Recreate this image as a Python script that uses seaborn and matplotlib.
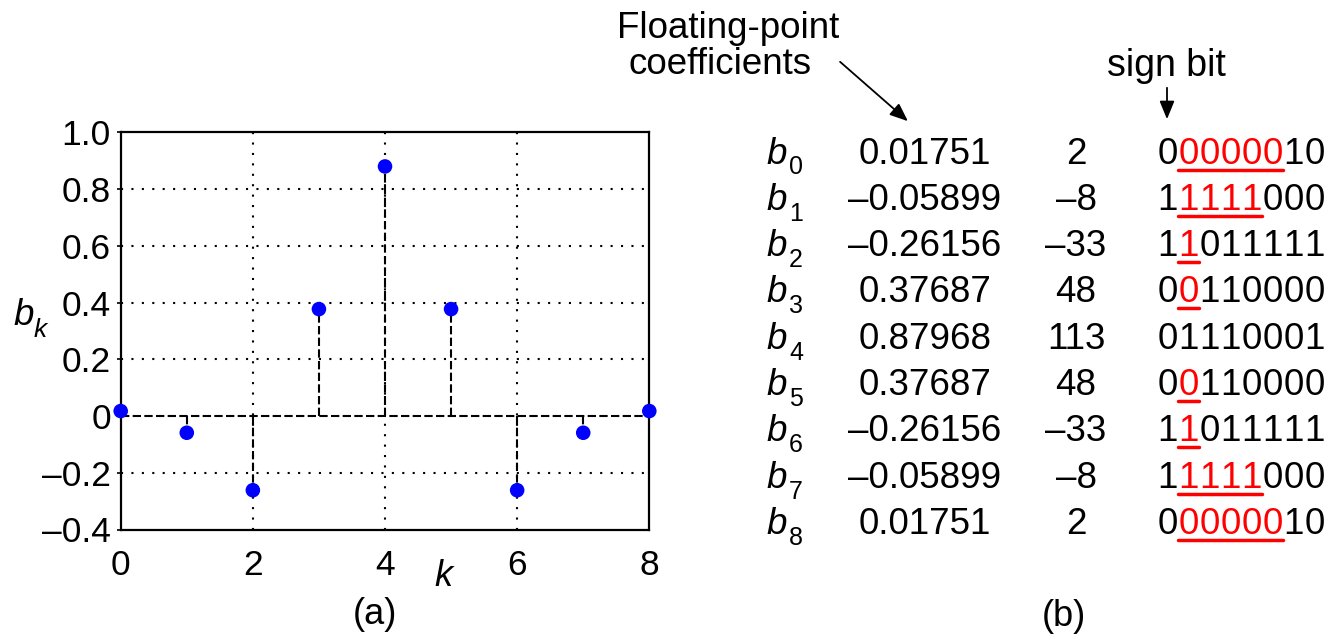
import numpy as np
import pandas as pd
import matplotlib
matplotlib.use("Agg")
import matplotlib.pyplot as plt
import seaborn as sns
from matplotlib.lines import Line2D
from matplotlib.patches import FancyArrowPatch

# ---------------- data ----------------
k_vals = [0, 1, 2, 3, 4, 5, 6, 7, 8]
b_vals = [0.01751, -0.05899, -0.26156, 0.37687, 0.87968, 0.37687, -0.26156, -0.05899, 0.01751]
b_text = ["0.01751", "\u20130.05899", "\u20130.26156", "0.37687", "0.87968",
          "0.37687", "\u20130.26156", "\u20130.05899", "0.01751"]
int_text = ["2", "\u20138", "\u201333", "48", "113", "48", "\u201333", "\u20138", "2"]
bin_text = ["00000010", "11111000", "11011111", "00110000", "01110001",
            "00110000", "11011111", "11111000", "00000010"]
red_counts = [5, 4, 1, 1, 0, 1, 1, 4, 5]
y_ticks = [-0.4, -0.2, 0, 0.2, 0.4, 0.6, 0.8, 1.0]
y_tick_labels = ["\u20130.4", "\u20130.2", "0", "0.2", "0.4", "0.6", "0.8", "1.0"]
x_ticks = [0, 2, 4, 6, 8]
x_tick_labels = ["0", "2", "4", "6", "8"]

sns.set_theme(style="white")
plt.rcParams['font.family'] = ['Liberation Sans', 'DejaVu Sans']
plt.rcParams['text.color'] = 'black'
plt.rcParams['axes.labelcolor'] = 'black'
plt.rcParams['xtick.color'] = 'black'
plt.rcParams['ytick.color'] = 'black'

W, H = 1331, 636
fig = plt.figure(figsize=(W / 100, H / 100), dpi=100)
ax = fig.add_axes([120.7 / W, 1 - 529.5 / H, (649.3 - 120.7) / W, (529.5 - 132.3) / H])

df = pd.DataFrame({"k": k_vals, "b": b_vals})

# grid
for gx in [2, 4, 6]:
    ax.axvline(gx, color="black", linestyle=(0, (1, 4)), linewidth=1.5, zorder=1)
for gy in [-0.2, 0.2, 0.4, 0.6, 0.8]:
    ax.axhline(gy, color="black", linestyle=(0, (1, 4)), linewidth=1.5, zorder=1)

# stems + baseline
ax.vlines(df["k"], 0, df["b"], colors="black", linestyles=(0, (4, 1.6)), linewidth=1.5, zorder=2)
ax.hlines(0, 0, 8, colors="black", linestyles=(0, (4, 1.6)), linewidth=1.5, zorder=2)

sns.scatterplot(data=df, x="k", y="b", ax=ax, color=(0, 0, 1), s=110,
                edgecolor="none", zorder=3, clip_on=False, legend=False)

ax.set_xlim(0, 8)
ax.set_ylim(-0.4, 1.0)
ax.set_xticks(x_ticks)
ax.set_xticklabels(x_tick_labels, fontsize=25.5)
ax.set_yticks(y_ticks)
ax.set_yticklabels(y_tick_labels, fontsize=25.5)
ax.tick_params(axis="x", length=0, pad=14)
ax.tick_params(axis="y", length=3, width=1.2, pad=4, direction="out", left=True)
ax.set_xlabel("")
ax.set_ylabel("")
for sp in ax.spines.values():
    sp.set_visible(True)
    sp.set_color("black")
    sp.set_linewidth(1.6)

def px(x, y):
    return x / W, 1 - y / H

# axis labels
fig.text(*px(13, 325), "b", fontsize=26.5, style="italic", ha="left", va="baseline")
fig.text(*px(34, 337), "k", fontsize=19, style="italic", ha="left", va="baseline")
fig.text(*px(443, 586), "k", fontsize=26, style="italic", ha="center", va="baseline")
fig.text(*px(375, 624), "(a)", fontsize=26, ha="center", va="baseline")
fig.text(*px(1064, 626), "(b)", fontsize=26, ha="center", va="baseline")

# table
row0 = 163.5
dy = 46.3
fs = 26.5
for i in range(len(b_text)):
    yb = row0 + dy * i
    fig.text(*px(766, yb), "b", fontsize=fs, style="italic", ha="left", va="baseline")
    fig.text(*px(789, yb + 11), str(k_vals[i]), fontsize=18, ha="left", va="baseline")
    fig.text(*px(925, yb), b_text[i], fontsize=fs, ha="center", va="baseline")
    fig.text(*px(1076, yb), int_text[i], fontsize=fs, ha="center", va="baseline")
    s = bin_text[i]
    nred = red_counts[i]
    for j, ch in enumerate(s):
        col = "red" if 1 <= j <= nred else "black"
        fig.text(*px(1167.5 + 21 * j, yb), ch, fontsize=fs, ha="center", va="baseline", color=col)
    if nred > 0:
        x0 = 1178
        x1 = 1178 + 21 * nred
        fig.add_artist(Line2D([x0 / W, x1 / W], [1 - (yb + 6) / H] * 2,
                              color="red", linewidth=2.5, transform=fig.transFigure))

# annotations
fig.text(*px(728, 38), "Floating-point", fontsize=26.5, ha="center", va="baseline")
fig.text(*px(720, 74), "coefficients", fontsize=26.5, ha="center", va="baseline")
fig.add_artist(FancyArrowPatch(
    px(838, 60), px(910, 123), transform=fig.transFigure,
    arrowstyle="-|>,head_length=11,head_width=4.5", color="black", linewidth=1.3))
fig.text(*px(1166, 76), "sign bit", fontsize=27, ha="center", va="baseline")
fig.add_artist(FancyArrowPatch(
    px(1167, 85), px(1167, 122), transform=fig.transFigure,
    arrowstyle="-|>,head_length=11,head_width=4.5", color="black", linewidth=1.3))

fig.savefig("out.png", dpi=100)
